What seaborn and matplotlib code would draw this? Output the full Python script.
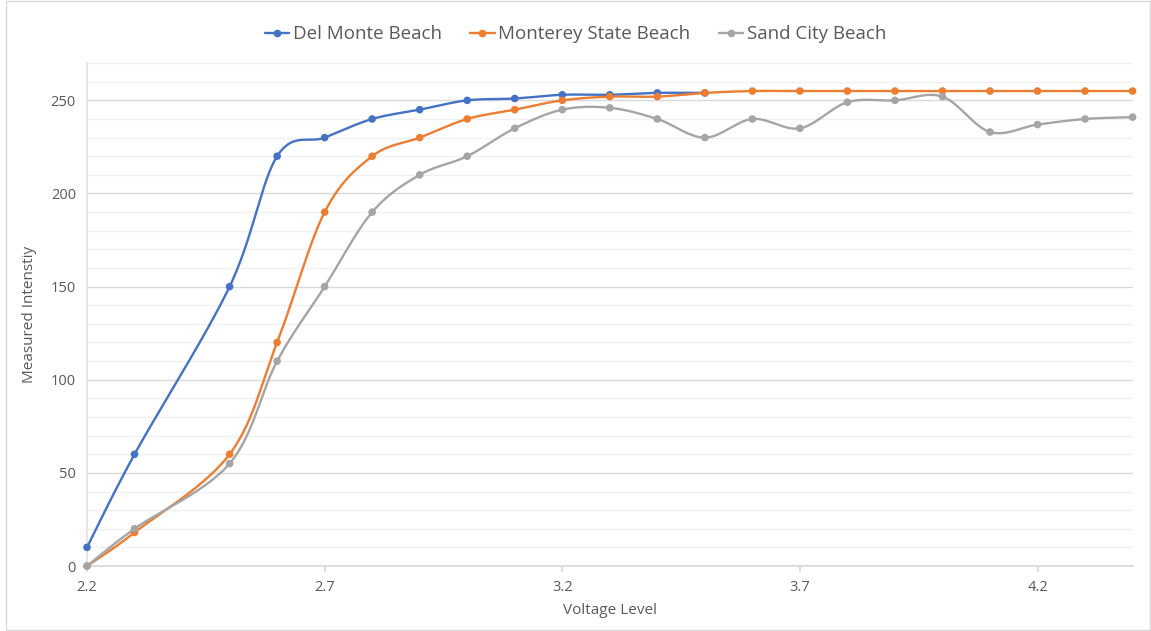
import numpy as np
import pandas as pd
import matplotlib
matplotlib.use("Agg")
import matplotlib.pyplot as plt
import seaborn as sns
from matplotlib.lines import Line2D
from matplotlib.patches import Rectangle

# ---- data ----
voltage = [2.2, 2.3, 2.5, 2.6, 2.7, 2.8, 2.9, 3.0, 3.1, 3.2, 3.3, 3.4, 3.5,
           3.6, 3.7, 3.8, 3.9, 4.0, 4.1, 4.2, 4.3, 4.4]
del_monte = [10, 60, 150, 220, 230, 240, 245, 250, 251, 253, 253, 254, 254]
monterey = [0, 18, 60, 120, 190, 220, 230, 240, 245, 250, 252, 252, 254,
            255, 255, 255, 255, 255, 255, 255, 255, 255]
sand_city = [0, 20, 55, 110, 150, 190, 210, 220, 235, 245, 246, 240, 230,
             240, 235, 249, 250, 252, 233, 237, 240, 241]
series_names = ["Del Monte Beach", "Monterey State Beach", "Sand City Beach"]
colors = ["#4472C4", "#ED7D31", "#A5A5A5"]
x_ticks = [2.2, 2.7, 3.2, 3.7, 4.2]

sns.set_theme(style="white")
plt.rcParams["font.family"] = ["Open Sans", "DejaVu Sans"]
TXT = "#595959"


def smooth(xs, ys, n=30):
    """Excel-style smoothed curve (Bezier with Catmull-Rom tangents)."""
    P = np.column_stack([xs, ys]).astype(float)
    out = []
    m = len(P)
    for i in range(m - 1):
        p0 = P[i - 1] if i > 0 else P[i]
        p1 = P[i]
        p2 = P[i + 1]
        p3 = P[i + 2] if i + 2 < m else P[i + 1]
        c1 = p1 + (p2 - p0) / 6.0
        c2 = p2 - (p3 - p1) / 6.0
        t = np.linspace(0, 1, n)[:, None]
        seg = ((1 - t) ** 3) * p1 + 3 * ((1 - t) ** 2) * t * c1 + 3 * (1 - t) * t ** 2 * c2 + t ** 3 * p2
        out.append(seg if i == 0 else seg[1:])
    return np.vstack(out)


fig = plt.figure(figsize=(11.51, 6.31), dpi=100)
ax = fig.add_axes([0.0756, 0.103, 0.9084, 0.797])

all_vals = [del_monte, monterey, sand_city]
for name, vals, col in zip(series_names, all_vals, colors):
    xs = voltage[:len(vals)]
    curve = smooth(xs, vals)
    dfc = pd.DataFrame({"x": curve[:, 0], "y": curve[:, 1]})
    sns.lineplot(data=dfc, x="x", y="y", sort=False, estimator=None, ax=ax,
                 color=col, linewidth=1.7, zorder=3)
    dfp = pd.DataFrame({"x": xs, "y": vals})
    sns.scatterplot(data=dfp, x="x", y="y", ax=ax, color=col, s=30,
                    edgecolor="none", zorder=4, clip_on=False)

ax.set_xlim(2.2, 4.4)
ax.set_ylim(0, 270)
ax.set_xticks(x_ticks)
ax.set_xticklabels([f"{v:.1f}" for v in x_ticks])
ax.set_yticks(np.arange(0, 251, 50))
ax.set_yticks(np.arange(0, 271, 10), minor=True)
ax.grid(which="major", axis="y", color="#D9D9D9", linewidth=1.0)
ax.grid(which="minor", axis="y", color="#F0F0F0", linewidth=1.0)
ax.grid(axis="x", visible=False)
ax.set_axisbelow(True)

for s in ["top", "right"]:
    ax.spines[s].set_visible(False)
ax.spines["left"].set_color("#E3E3E3")
ax.spines["bottom"].set_color("#D9D9D9")
ax.tick_params(axis="x", which="major", length=4, color="#D9D9D9", colors=TXT,
               labelsize=10.5, pad=6, direction="out", bottom=True)
ax.tick_params(axis="y", which="both", length=0, colors=TXT, labelsize=10.5, pad=8)
ax.tick_params(axis="x", which="minor", bottom=False)

ax.set_xlabel("Voltage Level", color=TXT, fontsize=11, labelpad=6)
ax.set_ylabel("Measured Intenstiy", color=TXT, fontsize=11, labelpad=10)

handles = [Line2D([0], [0], color=c, lw=1.7, marker="o", markersize=4.5) for c in colors]
fig.legend(handles, series_names, loc="center", bbox_to_anchor=(0.5, 0.946),
           ncol=3, frameon=False, fontsize=13.5, labelcolor=TXT,
           handlelength=1.3, handletextpad=0.2, columnspacing=1.5)

fig.patches.append(Rectangle((6 / 1151, 0.002), 1 - 7 / 1151, 0.996, transform=fig.transFigure,
                             fill=False, edgecolor="#D9D9D9", linewidth=1.0))

fig.savefig("out.png", dpi=100)
